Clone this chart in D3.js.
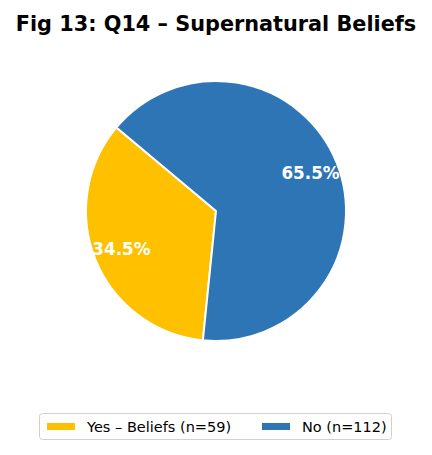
<!DOCTYPE html>
<html><head><meta charset="utf-8">
<script src="https://cdn.jsdelivr.net/npm/d3@7"></script>
<style>body{margin:0;background:#fff}svg{display:block}</style>
</head><body>
<script>
const categories = ["Yes – Beliefs (n=59)", "No (n=112)"];
const values = [59, 112];
const colors = ["#FFC000", "#2E75B6"];
const title = "Fig 13: Q14 – Supernatural Beliefs";

const W = 432, H = 455;
const cx = 216, cy = 211, R = 130;
const svg = d3.select("body").append("svg").attr("width", W).attr("height", H);

svg.append("text").attr("x", 216).attr("y", 31).attr("text-anchor", "middle")
  .attr("font-family", "DejaVu Sans").attr("font-weight", "bold").attr("font-size", 20.8)
  .text(title);

const total = d3.sum(values);
const start = -50 * Math.PI / 180;
const pie = d3.pie().sort(null).startAngle(start).endAngle(start - 2 * Math.PI);
const arcs = pie(values);
const arc = d3.arc().innerRadius(0).outerRadius(R);
const g = svg.append("g").attr("transform", `translate(${cx},${cy})`);
g.selectAll("path").data(arcs).enter().append("path")
  .attr("d", arc).attr("fill", (d, i) => colors[i])
  .attr("stroke", "#fff").attr("stroke-width", 2).attr("stroke-linejoin", "round");

const labelArc = d3.arc().innerRadius(R * 0.785).outerRadius(R * 0.785);
g.selectAll("text.pct").data(arcs).enter().append("text").attr("class", "pct")
  .attr("transform", d => `translate(${labelArc.centroid(d)})`)
  .attr("text-anchor", "middle").attr("dy", "0.36em")
  .attr("font-family", "DejaVu Sans").attr("font-weight", "bold").attr("font-size", 16.8)
  .attr("fill", "#fff")
  .text(d => (d.value / total * 100).toFixed(1) + "%");

// legend
const lg = svg.append("g");
lg.append("rect").attr("x", 39.5).attr("y", 413.5).attr("width", 352).attr("height", 26)
  .attr("rx", 3).attr("fill", "#fff").attr("stroke", "#d0d0d0").attr("stroke-width", 1);
const lx = [47, 262];
categories.forEach((c, i) => {
  lg.append("rect").attr("x", lx[i]).attr("y", 423).attr("width", 28).attr("height", 7)
    .attr("fill", colors[i]);
  lg.append("text").attr("x", lx[i] + 40).attr("y", 432)
    .attr("font-family", "DejaVu Sans").attr("font-size", 14.5).attr("fill", "#000").text(c);
});
</script>
</body></html>
